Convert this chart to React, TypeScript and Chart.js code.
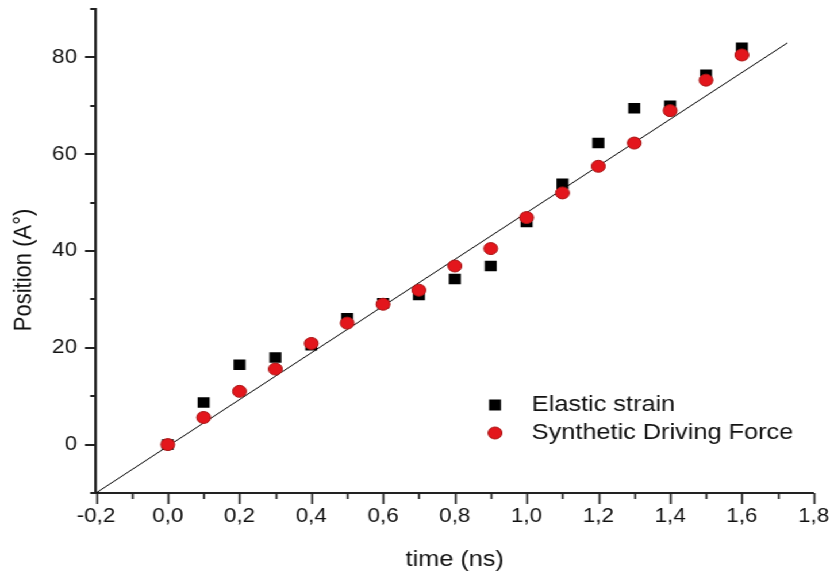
import React, { useEffect, useRef } from "react";
import { Chart, registerables } from "chart.js";

Chart.register(...registerables);

// ---- data ----
const times = [0, 0.1, 0.2, 0.3, 0.4, 0.5, 0.6, 0.7, 0.8, 0.9, 1.0, 1.1, 1.2, 1.3, 1.4, 1.5, 1.6];
const elasticStrain = [0, 8.7, 16.5, 18.0, 20.5, 26.1, 29.2, 30.9, 34.2, 36.9, 46.0, 53.9, 62.3, 69.5, 70.0, 76.4, 82.0];
const syntheticForce = [0, 5.6, 11.0, 15.6, 20.9, 25.1, 29.0, 31.9, 36.9, 40.5, 46.9, 52.0, 57.5, 62.3, 69.0, 75.3, 80.5];
const fitLineX = [-0.2, 1.727];
const fitLineY = [-10, 83];
const seriesLabels = ["Elastic strain", "Synthetic Driving Force"];
const xTitle = "time (ns)";
const yTitle = "Position (A°)";
const xRange = [-0.2, 1.8];
const yRange = [-10, 90];
const xMajorStep = 0.2;
const xMinorStep = 0.1;
const yMajorStep = 20;
const yMinorStep = 10;

const FONT = "'Liberation Sans', Arial, sans-serif";
const TEXT = "#111";
const AXIS = "#222";
const RED = "#e3161c";
const RED_BORDER = "#a81414";

const W = 722;
const H = 571;
const STRETCH = 830 / W;

const fmt = (v: number) => (Math.round(v * 10) / 10).toFixed(1).replace(".", ",");

const ticksPlugin = {
  id: "customTicks",
  afterDraw(chart: any) {
    const ctx = chart.ctx;
    const xs = chart.scales.x;
    const ys = chart.scales.y;
    const area = chart.chartArea;
    ctx.save();
    ctx.strokeStyle = AXIS;
    // x ticks
    ctx.lineWidth = 1.7;
    const nx = Math.round((xRange[1] - xRange[0]) / xMinorStep);
    for (let i = 0; i <= nx; i++) {
      const v = xRange[0] + i * xMinorStep;
      const px = Math.round(xs.getPixelForValue(v)) + 0.5;
      const major = i % Math.round(xMajorStep / xMinorStep) === 0;
      const len = major ? 11 : 6;
      ctx.beginPath();
      ctx.moveTo(px, area.bottom);
      ctx.lineTo(px, area.bottom + len);
      ctx.stroke();
    }
    // y ticks
    ctx.lineWidth = 2;
    const ny = Math.round((yRange[1] - yRange[0]) / yMinorStep);
    for (let i = 0; i <= ny; i++) {
      const v = yRange[0] + i * yMinorStep;
      const py = Math.round(ys.getPixelForValue(v));
      const major = Math.abs(v % yMajorStep) < 1e-6;
      const len = major ? 9.5 : 5;
      ctx.beginPath();
      ctx.moveTo(area.left, py);
      ctx.lineTo(area.left - len, py);
      ctx.stroke();
    }
    // y title
    ctx.fillStyle = TEXT;
    ctx.font = `22px ${FONT}`;
    ctx.textAlign = "center";
    ctx.textBaseline = "middle";
    ctx.translate(21, (area.top + area.bottom) / 2 + 19);
    ctx.rotate(-Math.PI / 2);
    ctx.fillText(yTitle, 0, 0);
    ctx.restore();

    // legend
    ctx.save();
    const lx = area.left + (area.right - area.left) * 0.556;
    const ly1 = 405;
    const ly2 = 433;
    ctx.fillStyle = "#000";
    ctx.fillRect(lx - 5.2, ly1 - 5.5, 10.4, 11);
    ctx.beginPath();
    ctx.arc(lx, ly2, 6, 0, Math.PI * 2);
    ctx.fillStyle = RED;
    ctx.fill();
    ctx.lineWidth = 1;
    ctx.strokeStyle = RED_BORDER;
    ctx.stroke();
    ctx.fillStyle = TEXT;
    ctx.font = `22px ${FONT}`;
    ctx.textAlign = "left";
    ctx.textBaseline = "middle";
    ctx.fillText(seriesLabels[0], lx + 32, ly1);
    ctx.fillText(seriesLabels[1], lx + 32, ly2);
    ctx.restore();
  },
};

export default function App() {
  const ref = useRef<HTMLCanvasElement | null>(null);
  useEffect(() => {
    if (!ref.current) return;
    const chart = new Chart(ref.current, {
      type: "scatter",
      data: {
        datasets: [
          {
            type: "line",
            label: "fit",
            data: fitLineX.map((x, i) => ({ x, y: fitLineY[i] })),
            borderColor: "#000",
            borderWidth: 1,
            pointRadius: 0,
            fill: false,
            order: 3,
          } as any,
          {
            label: seriesLabels[0],
            data: times.map((x, i) => ({ x, y: elasticStrain[i] })),
            pointStyle: "rect",
            pointRadius: 7.4,
            backgroundColor: "#000",
            borderColor: "#000",
            borderWidth: 0,
            order: 2,
          },
          {
            label: seriesLabels[1],
            data: times.map((x, i) => ({ x, y: syntheticForce[i] })),
            pointStyle: "circle",
            pointRadius: 6,
            backgroundColor: RED,
            borderColor: RED_BORDER,
            borderWidth: 1,
            order: 1,
          },
        ],
      },
      options: {
        responsive: false,
        animation: false,
        layout: { padding: { top: 9, right: W - 707.8, left: 0, bottom: 0 } },
        plugins: { legend: { display: false }, tooltip: { enabled: false } },
        scales: {
          x: {
            type: "linear",
            min: xRange[0],
            max: xRange[1],
            grid: { display: false, drawTicks: false },
            border: { display: true, color: AXIS, width: 2 },
            ticks: {
              stepSize: xMajorStep,
              padding: 12,
              color: TEXT,
              font: { family: FONT, size: 19.5 },
              maxRotation: 0,
              autoSkip: false,
              callback: (v: any) => fmt(Number(v)),
            },
            title: {
              display: true,
              text: xTitle,
              color: TEXT,
              font: { family: FONT, size: 22 },
              padding: { top: 0, bottom: -2 },
            },
            afterFit: (s: any) => {
              s.height = 78;
              s.paddingLeft = 0;
              s.paddingRight = 0;
            },
          },
          y: {
            type: "linear",
            min: yRange[0],
            max: yRange[1],
            grid: { display: false, drawTicks: false },
            border: { display: true, color: AXIS, width: 2.3 },
            ticks: {
              stepSize: yMinorStep,
              autoSkip: false,
              padding: 16.5,
              color: TEXT,
              font: { family: FONT, size: 19.5 },
              callback: (v: any) => {
                const n = Number(v);
                if (n < 0 || Math.abs(n % yMajorStep) > 1e-6) return "";
                return String(n);
              },
            },
            afterFit: (s: any) => {
              s.width = 83.5;
              s.paddingTop = 0;
              s.paddingBottom = 0;
            },
          },
        },
      } as any,
      plugins: [ticksPlugin],
    });
    return () => chart.destroy();
  }, []);

  return (
    <div
      style={{
        position: "absolute",
        left: 0,
        top: 0,
        width: W,
        height: H,
        transform: `scaleX(${STRETCH})`,
        transformOrigin: "0 0",
        background: "#fff",
      }}
    >
      <canvas ref={ref} width={W} height={H} style={{ width: W, height: H, display: "block" }} />
    </div>
  );
}
